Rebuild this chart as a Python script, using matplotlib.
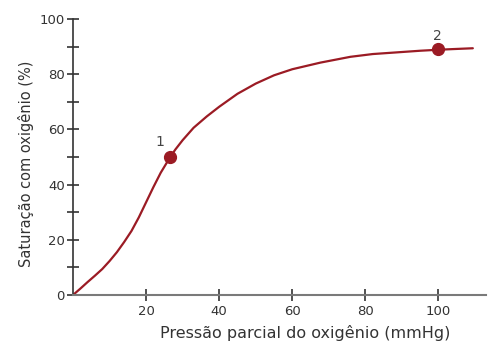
import numpy as np
import matplotlib
matplotlib.use("Agg")
import matplotlib.pyplot as plt
from matplotlib.ticker import MultipleLocator

# curve
pressure = [0, 2, 4, 6, 8, 10, 12, 14, 16, 18, 20, 22, 24, 26.6, 28, 30, 33, 36.6,
            40, 45, 50, 55, 60, 67.7, 75.9, 82, 89.6, 95, 99.8, 104, 109.4]
saturation = [0, 2.3, 4.7, 7.0, 9.4, 12.3, 15.5, 19.2, 23.2, 28.1, 33.6, 39.1, 44.3,
              50, 52.7, 56.1, 60.6, 64.7, 68.2, 72.9, 76.6, 79.6, 81.8, 84.2, 86.3,
              87.3, 88.0, 88.5, 88.85, 89.1, 89.4]

pt_x = [26.6, 100]
pt_y = [50, 89]
pt_labels = ["1", "2"]

red = "#9b1b24"
dark = "#333333"

fig = plt.figure(figsize=(4.91, 3.42), dpi=100)
ax = fig.add_axes([73/491, 47/342, 413/491, 276/342])

ax.plot(pressure, saturation, color=red, lw=1.6, solid_capstyle="round",
        solid_joinstyle="round")
ax.plot(pt_x, pt_y, "o", color=red, ms=8.5)
ax.text(pt_x[0] - 2.8, pt_y[0] + 4.0, pt_labels[0], fontsize=10, color="#444444", ha="center")
ax.text(pt_x[1] - 0.3, pt_y[1] + 3.4, pt_labels[1], fontsize=10, color="#444444", ha="center")

ax.set_xlim(0, 113)
ax.set_ylim(0, 100)
ax.set_xticks([20, 40, 60, 80, 100])
ax.set_yticks([0, 20, 40, 60, 80, 100])
ax.yaxis.set_minor_locator(MultipleLocator(10))

for s in ["top", "right"]:
    ax.spines[s].set_visible(False)
ax.spines["left"].set_color(dark)
ax.spines["bottom"].set_color("#7a7a7a")
ax.spines["left"].set_linewidth(1.2)
ax.spines["bottom"].set_linewidth(1.5)

ax.tick_params(axis="both", which="both", direction="inout", colors=dark,
               labelcolor=dark, labelsize=9.5, width=1.2)
ax.tick_params(axis="y", which="major", length=8, pad=2)
ax.tick_params(axis="y", which="minor", length=8)
ax.tick_params(axis="x", which="major", length=8, pad=3)

ax.set_xlabel("Pressão parcial do oxigênio (mmHg)", fontsize=11.5, color=dark)
ax.set_ylabel("Saturação com oxigênio (%)", fontsize=10.5, color=dark)
ax.xaxis.set_label_coords(0.562, -0.108)
ax.yaxis.set_label_coords(-0.095, 0.475)

fig.savefig("out.png", dpi=100)
